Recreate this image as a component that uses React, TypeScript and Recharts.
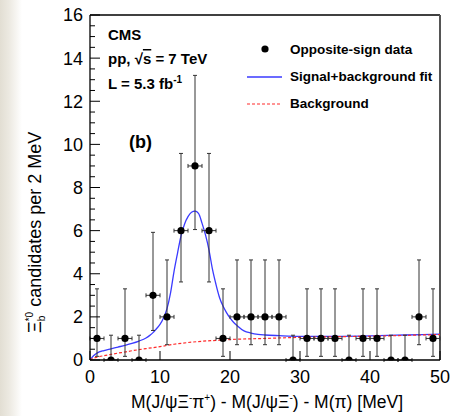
import {
  ComposedChart,
  Customized,
  ErrorBar,
  Line,
  ReferenceLine,
  Scatter,
  XAxis,
  YAxis,
} from 'recharts';

const FONT = '"Liberation Sans", Arial, Helvetica, sans-serif';

// 2 MeV bins: centres, event counts and asymmetric (Poisson) errors
const binCentres = [1, 3, 5, 7, 9, 11, 13, 15, 17, 19, 21, 23, 25, 27, 29, 31, 33, 35, 37, 39, 41, 43, 45, 47, 49];
const counts = [1, 0, 1, 0, 3, 2, 6, 9, 6, 1, 2, 2, 2, 2, 0, 1, 1, 1, 0, 1, 1, 0, 0, 2, 1];
const errLow = [0.83, 0, 0.83, 0, 1.63, 1.29, 2.38, 2.95, 2.38, 0.83, 1.29, 1.29, 1.29, 1.29, 0, 0.83, 0.83, 0.83, 0, 0.83, 0.83, 0, 0, 1.29, 0.83];
const errHigh = [2.3, 1.15, 2.3, 1.15, 2.92, 2.64, 3.58, 4.2, 3.58, 2.3, 2.64, 2.64, 2.64, 2.64, 1.15, 2.3, 2.3, 2.3, 1.15, 2.3, 2.3, 1.15, 1.15, 2.64, 2.3];
const halfBin = 1;

// signal + background fit
const fitX = [0, 0.5, 1, 2, 3, 4, 5, 6, 7, 8, 8.5, 9, 9.5, 10, 10.5, 11, 11.5, 12, 12.5, 13, 13.5, 14, 14.5, 15, 15.5, 16, 16.5, 17, 17.5, 18, 18.5, 19, 19.5, 20, 20.5, 21, 22, 23, 24, 25, 27, 30, 35, 40, 45, 50];
const fitY = [0, 0.2, 0.32, 0.44, 0.52, 0.6, 0.68, 0.77, 0.88, 1.02, 1.13, 1.27, 1.45, 1.65, 1.95, 2.38, 3.1, 4.1, 4.95, 5.75, 6.3, 6.65, 6.85, 6.9, 6.8, 6.35, 5.8, 5.1, 4.2, 3.5, 2.9, 2.5, 2.2, 1.95, 1.75, 1.6, 1.35, 1.25, 1.19, 1.16, 1.13, 1.1, 1.1, 1.12, 1.16, 1.2];

// background component
const bkgX = [0, 0.5, 1, 2, 3, 4, 5, 6, 7, 8, 10, 12, 14, 16, 18, 20, 25, 30, 35, 40, 45, 50];
const bkgY = [0, 0.08, 0.13, 0.2, 0.26, 0.32, 0.37, 0.43, 0.48, 0.53, 0.62, 0.73, 0.81, 0.87, 0.91, 0.95, 1.0, 1.05, 1.08, 1.1, 1.14, 1.18];

const xTicks = [0, 10, 20, 30, 40, 50];
const yMajorTicks = [0, 2, 4, 6, 8, 10, 12, 14, 16];
const yTicks = yMajorTicks.flatMap((t, i) =>
  i === yMajorTicks.length - 1 ? [t] : [t, t + 0.5, t + 1, t + 1.5]
);

const legendLabels = ['Opposite-sign data', 'Signal+background fit', 'Background'];

const points = binCentres.map((x, i) => ({
  x,
  y: counts[i],
  ey: [errLow[i], errHigh[i]],
  ex: halfBin,
}));
const fitData = fitX.map((x, i) => ({ x, y: fitY[i] }));
const bkgData = bkgX.map((x, i) => ({ x, y: bkgY[i] }));

const Y_MARGIN = 7;
const X_MARGIN = 10;

function YTick(props: any) {
  const { x, y, payload } = props;
  const axisX = x + Y_MARGIN;
  const major = payload.value % 2 === 0;
  return (
    <g>
      <line x1={axisX} x2={axisX + (major ? 10 : 5)} y1={y} y2={y} stroke="#000" strokeWidth={1} />
      {major && (
        <text x={x} y={y} dy="0.36em" textAnchor="end" fontSize={18} fontFamily={FONT} fill="#000">
          {payload.value}
        </text>
      )}
    </g>
  );
}

function XTick(props: any) {
  const { x, y, payload } = props;
  const axisY = y - X_MARGIN;
  return (
    <g>
      <line x1={x} x2={x} y1={axisY} y2={axisY - 9} stroke="#000" strokeWidth={1} />
      <text x={x} y={y} dy="0.71em" textAnchor="middle" fontSize={18} fontFamily={FONT} fill="#000">
        {payload.value}
      </text>
    </g>
  );
}

function DataDot(props: any) {
  const { cx, cy } = props;
  return <circle cx={cx} cy={cy} r={3.6} fill="#000" />;
}

function Annotations() {
  return (
    <g fontFamily={FONT} fill="#000">
      {/* experiment block */}
      <text x={108} y={40} fontSize={15} fontWeight="bold">CMS</text>
      <text x={108} y={64} fontSize={15} fontWeight="bold">
        pp,  √
        <tspan textDecoration="overline">s</tspan> = 7 TeV
      </text>
      <text x={108} y={89} fontSize={15} fontWeight="bold">
        L = 5.3 fb
        <tspan dy={-6} fontSize={10}>-1</tspan>
      </text>
      <text x={129} y={148} fontSize={18} fontWeight="bold">(b)</text>

      {/* legend */}
      <circle cx={265} cy={49} r={3.6} fill="#000" />
      <line x1={247} x2={282} y1={77} y2={77} stroke="#3a3aff" strokeWidth={1.3} />
      <line x1={247} x2={282} y1={104} y2={104} stroke="#ff2a2a" strokeWidth={1.2} strokeDasharray="3 2" />
      {legendLabels.map((label, i) => (
        <text key={label} x={290} y={54 + i * 27} fontSize={13.5} fontWeight="bold">
          {label}
        </text>
      ))}

      {/* axis titles */}
      <text x={267} y={408} fontSize={17.5} textAnchor="middle">
        M(J/ψΞ
        <tspan dy={-7} fontSize={10}>-</tspan>
        <tspan dy={7}>π</tspan>
        <tspan dy={-7} fontSize={10}>+</tspan>
        <tspan dy={7}>) - M(J/ψΞ</tspan>
        <tspan dy={-7} fontSize={10}>-</tspan>
        <tspan dy={7}>) - M(π) [MeV]</tspan>
      </text>
      <text x={41} y={333} fontSize={18} textAnchor="start" transform="rotate(-90 41 333)">
        Ξ
        <tspan dy={-8} fontSize={10}>*0</tspan>
        <tspan dx={-9.5} dy={12} fontSize={10}>b</tspan>
        <tspan dx={9} dy={-4}>candidates per 2 MeV</tspan>
      </text>
    </g>
  );
}

export default function App() {
  return (
    <div
      style={{
        position: 'absolute',
        left: 0,
        top: 0,
        width: 450,
        height: 416,
        background: 'linear-gradient(to right, #e2ded3 0px, #ece9e1 9px, #ffffff 22px)',
      }}
    >
      <ComposedChart width={450} height={416} margin={{ top: 15, right: 10, bottom: 0, left: 0 }}>
        <XAxis
          type="number"
          dataKey="x"
          domain={[0, 50]}
          ticks={xTicks}
          interval={0}
          height={56}
          tickSize={0}
          tickMargin={X_MARGIN}
          tickLine={false}
          axisLine={{ stroke: '#000', strokeWidth: 1.3 }}
          tick={<XTick />}
          allowDataOverflow
        />
        <YAxis
          type="number"
          dataKey="y"
          domain={[0, 16]}
          ticks={yTicks}
          interval={0}
          width={90}
          tickSize={0}
          tickMargin={Y_MARGIN}
          tickLine={false}
          axisLine={{ stroke: '#000', strokeWidth: 1.3 }}
          tick={<YTick />}
          allowDataOverflow
        />
        <ReferenceLine y={16} stroke="#000" strokeWidth={1.3} />
        <ReferenceLine x={50} stroke="#555" strokeWidth={2} />
        <Line
          data={fitData}
          dataKey="y"
          type="monotone"
          stroke="#3a3aff"
          strokeWidth={1.3}
          dot={false}
          isAnimationActive={false}
        />
        <Line
          data={bkgData}
          dataKey="y"
          type="monotone"
          stroke="#ff2a2a"
          strokeWidth={1.2}
          strokeDasharray="3 2"
          dot={false}
          isAnimationActive={false}
        />
        <Scatter data={points} dataKey="y" shape={<DataDot />} isAnimationActive={false}>
          <ErrorBar dataKey="ey" direction="y" width={2} stroke="#333" strokeWidth={1} isAnimationActive={false} />
          <ErrorBar dataKey="ex" direction="x" width={2} stroke="#333" strokeWidth={1} isAnimationActive={false} />
        </Scatter>
        <Customized component={Annotations} />
      </ComposedChart>
    </div>
  );
}
